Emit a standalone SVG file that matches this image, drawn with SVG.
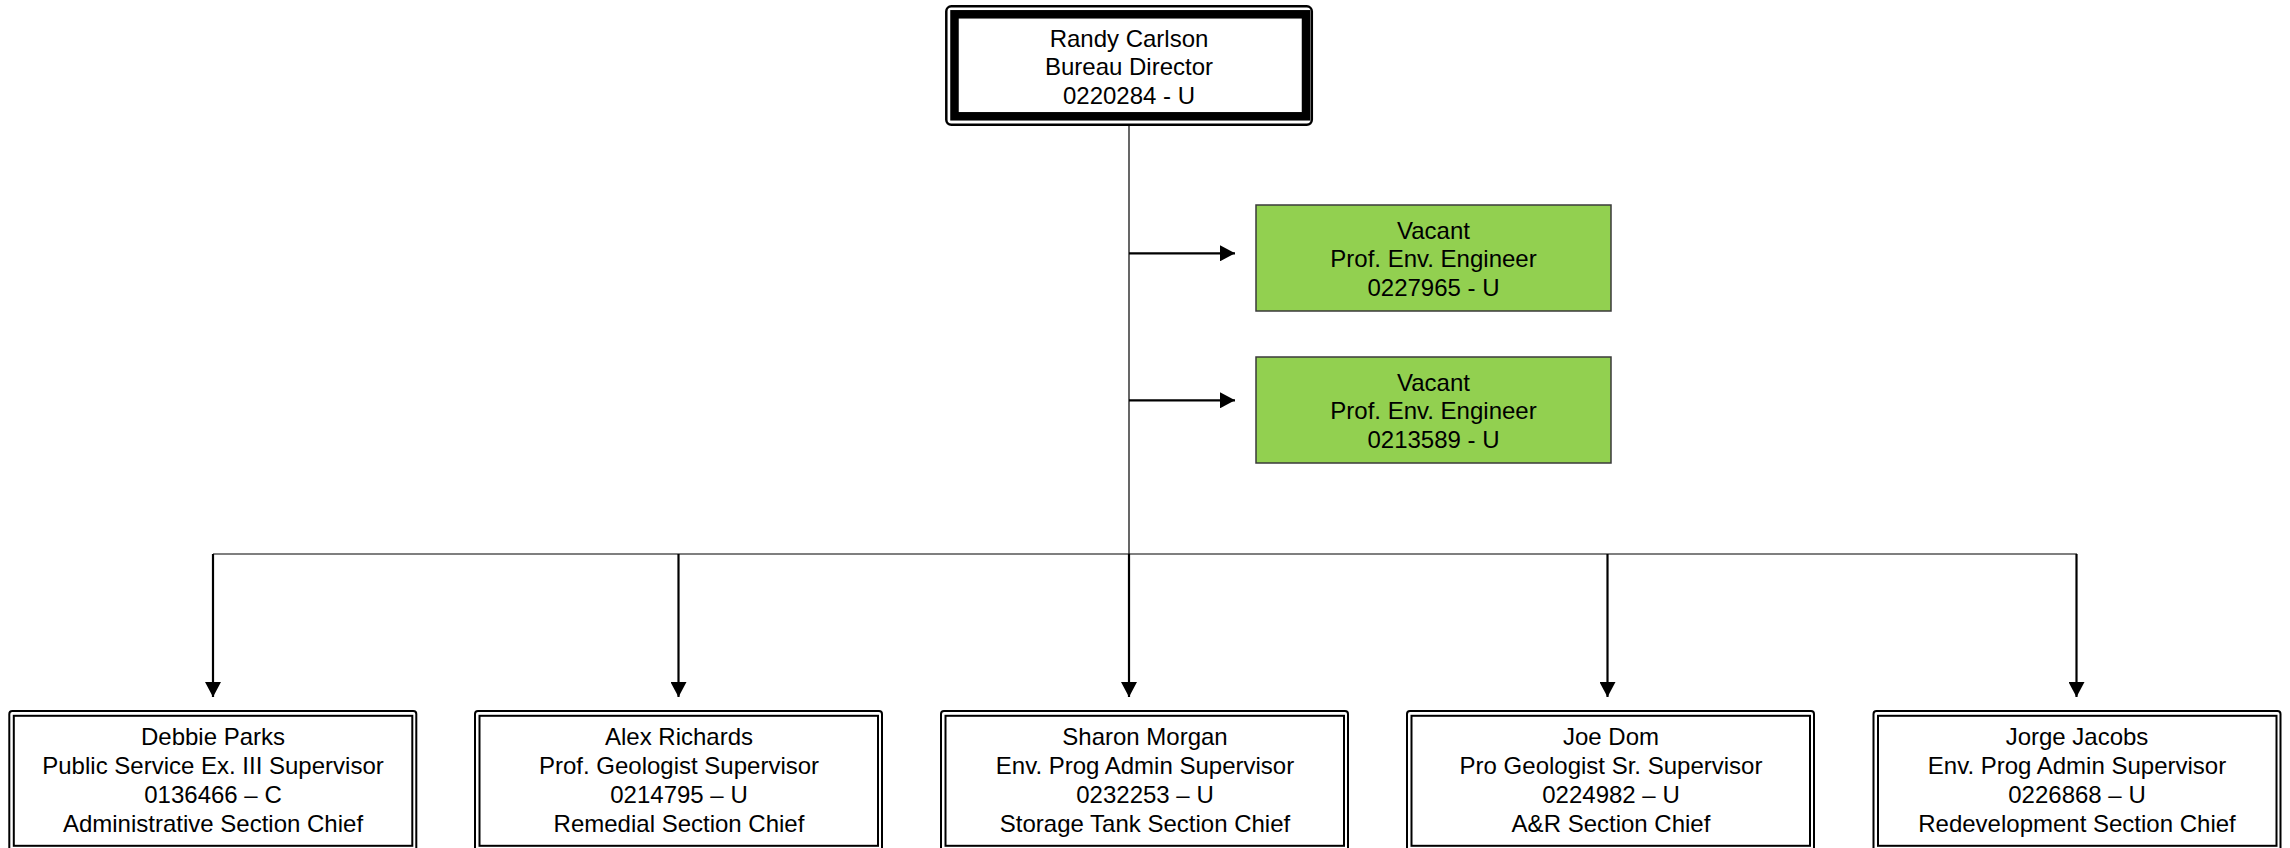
<svg xmlns="http://www.w3.org/2000/svg" width="2290" height="848" viewBox="0 0 2290 848">
<defs>
<style>
text{font-family:"Liberation Sans",Arial,sans-serif;font-size:24px;fill:#000;text-anchor:middle}
.outer{fill:#fff;stroke:#000;stroke-width:2}
.inner{fill:none;stroke:#000;stroke-width:2}
.green{fill:#92D050;stroke:#3a3a3a;stroke-width:1.5}
.trunk{fill:none;stroke:#000;stroke-width:1.2}
.arr{fill:none;stroke:#000;stroke-width:2.2}
</style>
<marker id="ah" viewBox="0 0 15 16" refX="15" refY="8" markerWidth="15" markerHeight="16" markerUnits="userSpaceOnUse" orient="auto">
<path d="M0,0 L15,8 L0,16 Z" fill="#000"/>
</marker>
</defs>
<rect width="2290" height="848" fill="#fff"/>
<g id="connectors">
<line class="trunk" x1="1129" y1="125" x2="1129" y2="554"/>
<line class="trunk" x1="213" y1="554" x2="2077" y2="554"/>
<line class="arr" x1="1129" y1="253.3" x2="1235" y2="253.3" marker-end="url(#ah)"/>
<line class="arr" x1="1129" y1="400.3" x2="1235" y2="400.3" marker-end="url(#ah)"/>
<line class="arr" x1="213" y1="554" x2="213" y2="697" marker-end="url(#ah)"/>
<line class="arr" x1="678.5" y1="554" x2="678.5" y2="697" marker-end="url(#ah)"/>
<line class="arr" x1="1129" y1="554" x2="1129" y2="697" marker-end="url(#ah)"/>
<line class="arr" x1="1607.5" y1="554" x2="1607.5" y2="697" marker-end="url(#ah)"/>
<line class="arr" x1="2076.5" y1="554" x2="2076.5" y2="697" marker-end="url(#ah)"/>
</g>
<g id="director">
<rect x="946.3" y="6.3" width="365.5" height="118.5" rx="5" fill="#fff" stroke="#000" stroke-width="2.5"/>
<rect x="954.5" y="14.3" width="351.5" height="102" fill="none" stroke="#000" stroke-width="8.5"/>
<text x="1129" y="46.5">Randy Carlson</text>
<text x="1129" y="75">Bureau Director</text>
<text x="1129" y="103.5">0220284 - U</text>
</g>
<g id="vacant1">
<rect class="green" x="1256" y="205" width="355" height="106"/>
<text x="1433.5" y="238.5">Vacant</text>
<text x="1433.5" y="267">Prof. Env. Engineer</text>
<text x="1433.5" y="295.5">0227965 - U</text>
</g>
<g id="vacant2">
<rect class="green" x="1256" y="357" width="355" height="106"/>
<text x="1433.5" y="390.5">Vacant</text>
<text x="1433.5" y="419">Prof. Env. Engineer</text>
<text x="1433.5" y="447.5">0213589 - U</text>
</g>
<g id="debbie">
<rect class="outer" x="9.3" y="711" width="407" height="140" rx="3"/>
<rect class="inner" x="13.8" y="715.8" width="398.5" height="130"/>
<text x="213" y="745">Debbie Parks</text>
<text x="213" y="774">Public Service Ex. III Supervisor</text>
<text x="213" y="803">0136466 – C</text>
<text x="213" y="832">Administrative Section Chief</text>
</g>
<g id="alex">
<rect class="outer" x="475" y="711" width="407" height="140" rx="3"/>
<rect class="inner" x="479.5" y="715.8" width="398.5" height="130"/>
<text x="679" y="745">Alex Richards</text>
<text x="679" y="774">Prof. Geologist Supervisor</text>
<text x="679" y="803">0214795 – U</text>
<text x="679" y="832">Remedial Section Chief</text>
</g>
<g id="sharon">
<rect class="outer" x="941" y="711" width="407" height="140" rx="3"/>
<rect class="inner" x="945.5" y="715.8" width="398.5" height="130"/>
<text x="1145" y="745">Sharon Morgan</text>
<text x="1145" y="774">Env. Prog Admin Supervisor</text>
<text x="1145" y="803">0232253 – U</text>
<text x="1145" y="832">Storage Tank Section Chief</text>
</g>
<g id="joe">
<rect class="outer" x="1407" y="711" width="407" height="140" rx="3"/>
<rect class="inner" x="1411.5" y="715.8" width="398.5" height="130"/>
<text x="1611" y="745">Joe Dom</text>
<text x="1611" y="774">Pro Geologist Sr. Supervisor</text>
<text x="1611" y="803">0224982 – U</text>
<text x="1611" y="832">A&amp;R Section Chief</text>
</g>
<g id="jorge">
<rect class="outer" x="1873.5" y="711" width="407" height="140" rx="3"/>
<rect class="inner" x="1878" y="715.8" width="398.5" height="130"/>
<text x="2077" y="745">Jorge Jacobs</text>
<text x="2077" y="774">Env. Prog Admin Supervisor</text>
<text x="2077" y="803">0226868 – U</text>
<text x="2077" y="832">Redevelopment Section Chief</text>
</g>
</svg>
